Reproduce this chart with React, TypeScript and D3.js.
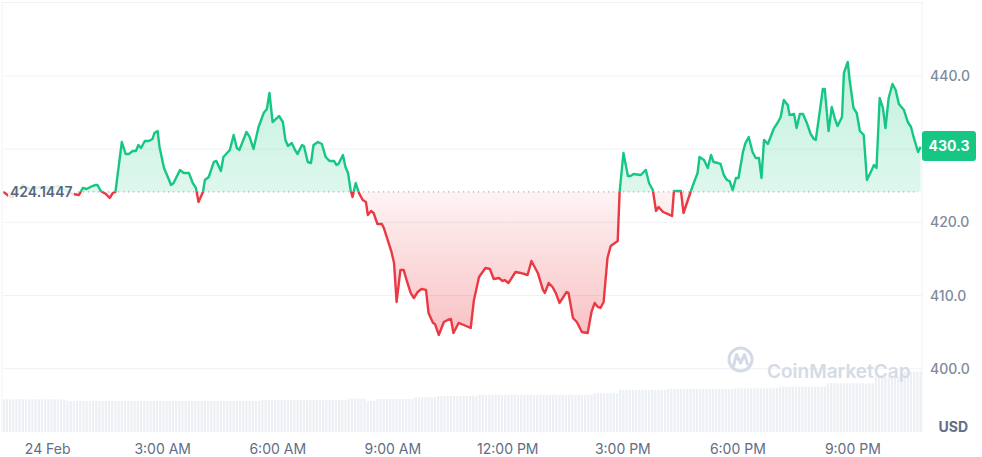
import React from "react";
import * as d3 from "d3";

// minutes after 00:00 on 24 Feb (negative = previous day)
const priceMinutes = [
  -69, -61, -55, -47, -39, -27, -11, 5, 17, 28,
  39, 49, 55, 61, 67, 75, 78, 83, 91, 97,
  102, 106, 116, 122, 127, 133, 138, 142, 146, 152,
  158, 164, 167, 172, 175, 182, 188, 193, 197, 207,
  213, 221, 227, 232, 236, 243, 246, 252, 260, 264,
  271, 275, 285, 291, 296, 300, 311, 316, 322, 330,
  338, 343, 347, 352, 362, 368, 372, 376, 382, 387,
  391, 398, 401, 407, 412, 416, 423, 429, 435, 441,
  448, 452, 455, 462, 466, 470, 474, 477, 482, 487,
  493, 498, 501, 506, 510, 516, 523, 526, 532, 538,
  542, 546, 552, 557, 563, 568, 573, 579, 585, 592,
  596, 603, 606, 612, 620, 626, 631, 635, 643, 651,
  662, 667, 675, 685, 692, 698, 706, 712, 715, 721,
  732, 740, 751, 757, 767, 775, 778, 784, 790, 795,
  801, 812, 815, 822, 828, 836, 845, 851, 856, 861,
  865, 870, 876, 881, 892, 895, 901, 908, 912, 917,
  928, 936, 941, 947, 952, 956, 963, 970, 977, 980,
  991, 995, 1006, 1011, 1017, 1020, 1027, 1033, 1038, 1042,
  1049, 1053, 1058, 1063, 1067, 1072, 1077, 1081, 1088, 1092,
  1097, 1103, 1108, 1113, 1117, 1121, 1127, 1136, 1143, 1147,
  1152, 1158, 1161, 1168, 1172, 1177, 1182, 1188, 1194, 1199,
  1202, 1207, 1213, 1216, 1222, 1227, 1232, 1236, 1243, 1246,
  1252, 1255, 1261, 1266, 1271, 1277, 1282, 1288, 1293, 1297,
  1302, 1307, 1311, 1316, 1322, 1327, 1332, 1340, 1346, 1351,
  1355, 1362, 1366,
];

const priceValues = [
  424.14, 423.6, 423.46, 424.41, 425.1, 424.55, 424.83, 424.69, 424.96, 424.41,
  423.87, 423.73, 424.69, 424.55, 424.83, 425.1, 425.1, 424.28, 423.87, 423.32,
  424.01, 424.14, 430.97, 429.33, 429.33, 429.74, 429.74, 430.56, 430.15, 431.11,
  431.11, 431.38, 432.2, 432.47, 430.29, 427.42, 426.19, 425.1, 425.37, 427.15,
  426.74, 426.74, 425.37, 424.69, 422.78, 424.14, 425.78, 426.19, 428.24, 428.38,
  427.01, 428.92, 429.88, 431.93, 430.15, 429.88, 432.34, 431.66, 430.02, 433.02,
  434.93, 435.48, 437.67, 433.7, 434.52, 433.7, 431.25, 430.43, 430.84, 429.88,
  429.33, 430.56, 430.43, 428.24, 428.1, 430.56, 430.97, 430.7, 428.92, 428.38,
  428.38, 427.83, 427.97, 429.2, 427.56, 426.74, 424.41, 423.46, 425.37, 424.01,
  423.05, 422.78, 421.0, 421.55, 421.27, 419.77, 419.77, 419.23, 417.59, 415.95,
  414.44, 409.12, 413.49, 413.49, 411.71, 410.35, 409.66, 410.48, 410.89, 410.76,
  407.61, 406.25, 406.11, 404.61, 406.38, 406.66, 406.79, 404.88, 406.25, 405.97,
  405.56, 409.39, 412.53, 413.76, 413.62, 412.26, 412.39, 411.98, 412.12, 411.71,
  413.21, 413.08, 412.8, 414.72, 413.08, 410.76, 410.35, 411.71, 411.16, 410.35,
  408.98, 410.48, 410.35, 406.93, 406.38, 405.02, 404.88, 407.75, 408.98, 408.43,
  408.3, 409.12, 415.13, 416.77, 417.45, 424.14, 429.47, 426.33, 426.33, 426.6,
  426.46, 427.15, 425.37, 424.41, 421.55, 422.09, 421.41, 421.14, 420.86, 424.28,
  424.28, 421.27, 424.14, 425.37, 426.74, 428.92, 428.51, 427.42, 429.2, 428.24,
  428.1, 427.97, 426.46, 425.78, 425.64, 424.41, 426.06, 426.06, 429.61, 430.84,
  431.66, 429.61, 428.79, 428.79, 426.06, 431.25, 430.7, 432.75, 433.7, 434.39,
  436.71, 436.03, 434.66, 434.8, 432.88, 434.8, 434.8, 433.57, 432.06, 431.38,
  431.25, 434.39, 438.21, 438.21, 432.47, 435.75, 434.11, 433.16, 434.39, 440.4,
  441.9, 439.44, 435.62, 434.93, 432.47, 431.93, 425.78, 426.88, 427.83, 427.42,
  436.98, 435.62, 432.88, 436.98, 438.9, 438.08, 436.16, 435.34, 433.7, 433.02,
  431.66, 429.61, 430.3,
];

// 24h volume (arbitrary units, millions), one value every 5 minutes
const volumeStartMinute = -69;
const volumeStepMinutes = 5;
const volumeValues = [
  32.9, 32.7, 32.8, 32.6, 32.7, 32.9, 32.8, 32.7, 32.6, 32.8, 32.7, 32.7,
  32.8, 32.7, 32.6, 32.7, 32.8, 32.7, 32.6, 32.5, 31.2, 31.0, 31.1, 31.0,
  31.1, 31.0, 30.9, 31.0, 31.1, 31.0, 31.0, 30.9, 31.0, 31.1, 31.0, 31.0,
  31.0, 31.1, 31.0, 30.9, 31.0, 31.0, 31.1, 31.0, 31.0, 30.9, 31.0, 31.1,
  31.0, 31.0, 31.1, 31.0, 30.9, 31.0, 31.0, 31.1, 31.0, 31.0, 30.9, 31.0,
  31.1, 31.0, 31.0, 30.9, 31.0, 31.1, 31.0, 31.0, 31.1, 31.0, 30.9, 31.0,
  31.0, 31.1, 31.0, 31.0, 30.9, 31.0, 31.0, 31.1, 31.0, 32.0, 32.1, 32.0,
  32.0, 31.9, 32.0, 32.1, 32.0, 32.0, 31.9, 32.0, 32.1, 32.0, 32.0, 31.9,
  32.0, 32.1, 32.0, 32.0, 31.9, 32.0, 32.1, 32.0, 32.0, 32.0, 31.9, 32.0,
  33.3, 33.4, 33.3, 33.2, 33.3, 33.3, 31.0, 31.1, 31.0, 33.0, 33.1, 33.0,
  33.0, 32.9, 33.0, 33.1, 33.0, 33.0, 32.9, 33.0, 33.1, 34.7, 34.8, 34.7,
  34.7, 34.6, 34.7, 34.8, 36.0, 36.1, 36.0, 35.9, 36.0, 36.0, 36.1, 36.0,
  36.0, 35.9, 36.0, 36.1, 36.0, 37.3, 37.4, 37.3, 37.2, 37.3, 37.3, 37.4,
  37.3, 37.3, 37.2, 37.3, 37.4, 37.3, 37.3, 37.2, 37.3, 37.3, 37.4, 37.3,
  37.3, 37.2, 37.3, 37.3, 37.4, 37.3, 37.3, 37.2, 37.3, 37.4, 37.3, 37.3,
  37.3, 37.2, 37.3, 37.4, 37.3, 38.7, 38.8, 38.7, 38.6, 38.7, 38.7, 38.8,
  38.7, 42.0, 42.1, 42.0, 41.9, 42.0, 42.0, 42.1, 42.0, 42.0, 41.9, 42.0,
  42.0, 42.1, 42.0, 42.0, 43.0, 43.1, 43.0, 42.9, 43.0, 43.0, 43.1, 43.0,
  43.0, 42.9, 43.0, 43.1, 43.0, 43.0, 42.9, 43.0, 43.1, 43.0, 43.0, 42.9,
  43.0, 43.7, 43.8, 43.7, 43.6, 43.7, 43.7, 43.8, 43.7, 43.7, 43.6, 43.7,
  43.7, 43.8, 43.7, 45.3, 45.4, 45.3, 45.2, 45.3, 45.3, 45.4, 45.3, 45.3,
  45.3, 45.2, 45.3, 45.4, 45.3, 45.3, 48.7, 48.8, 48.7, 48.6, 48.7, 48.7,
  48.8, 48.7, 48.7, 48.6, 48.7, 48.8, 48.7, 48.7, 48.6, 55.3, 55.4, 55.3,
  55.2, 55.3, 55.3, 55.4, 55.3, 60.3, 60.4, 60.3, 60.2, 60.3, 60.3, 60.4,
];

const xTickHours = [0, 3, 6, 9, 12, 15, 18, 21];
const xTickLabels = ["24 Feb", "3:00 AM", "6:00 AM", "9:00 AM", "12:00 PM", "3:00 PM", "6:00 PM", "9:00 PM"];
const yTicks = [400, 410, 420, 430, 440];
const yTickLabels = ["400.0", "410.0", "420.0", "430.0", "440.0"];
const openPrice = 424.1447;
const openLabel = "424.1447";
const lastLabel = "430.3";
const currencyLabel = "USD";
const watermark = "CoinMarketCap";

const GREEN = "#16c784";
const RED = "#ea3943";
const FONT = "Inter, 'Noto Sans', sans-serif";

export default function App() {
  const W = 982;
  const H = 457;
  const day0 = new Date(2025, 1, 24, 0, 0, 0).getTime();
  const t = (m: number) => new Date(day0 + m * 60000);

  const plotL = 3;
  const plotR = 922;
  const volBottom = 432;

  const x = d3
    .scaleTime()
    .domain([t(priceMinutes[0]), t(priceMinutes[priceMinutes.length - 1])])
    .range([3.6, 920.6]);
  const y = d3.scaleLinear().domain([400, 440]).range([368.7, 75.9]);
  const vy = d3.scaleLinear().domain([0, 61]).range([volBottom, 371]);

  const data = priceMinutes.map((m, i) => ({ d: t(m), p: priceValues[i] }));
  const by = y(openPrice);

  const line = d3
    .line<{ d: Date; p: number }>()
    .x((d) => x(d.d))
    .y((d) => y(d.p));
  const area = d3
    .area<{ d: Date; p: number }>()
    .x((d) => x(d.d))
    .y0(by)
    .y1((d) => y(d.p));

  const linePath = line(data) || "";
  const areaPath = area(data) || "";

  const last = data[data.length - 1];
  const lastY = y(last.p);
  const badgeTop = lastY - 16;
  const badgeH = 30;

  const bars = volumeValues.map((v, i) => ({
    d: t(volumeStartMinute + i * volumeStepMinutes),
    v,
  }));

  return (
    <svg
      width={W}
      height={H}
      viewBox={`0 0 ${W} ${H}`}
      style={{ position: "absolute", left: 0, top: 0, background: "#fff" }}
      fontFamily={FONT}
    >
      <defs>
        <clipPath id="plotClip">
          <rect x={plotL} y={0} width={plotR - plotL} height={volBottom} />
        </clipPath>
        <clipPath id="aboveClip">
          <rect x={plotL} y={0} width={plotR - plotL} height={by} />
        </clipPath>
        <clipPath id="belowClip">
          <rect x={plotL} y={by} width={plotR - plotL} height={H - by} />
        </clipPath>
        <linearGradient id="gGreen" gradientUnits="userSpaceOnUse" x1={0} y1={60} x2={0} y2={by}>
          <stop offset="0%" stopColor={GREEN} stopOpacity={0.26} />
          <stop offset="100%" stopColor={GREEN} stopOpacity={0.14} />
        </linearGradient>
        <linearGradient id="gRed" gradientUnits="userSpaceOnUse" x1={0} y1={by} x2={0} y2={340}>
          <stop offset="0%" stopColor={RED} stopOpacity={0.06} />
          <stop offset="100%" stopColor={RED} stopOpacity={0.32} />
        </linearGradient>
      </defs>

      {/* frame */}
      <line x1={plotL - 1} x2={plotL - 1} y1={2} y2={volBottom} stroke="#eff2f5" strokeWidth={1} />
      <line x1={plotL - 1} x2={plotR} y1={2.5} y2={2.5} stroke="#eff2f5" strokeWidth={1} />
      <line x1={plotR} x2={plotR} y1={2} y2={volBottom} stroke="#eff2f5" strokeWidth={1} />

      {/* grid */}
      {yTicks.map((v) => (
        <line key={v} x1={plotL} x2={plotR} y1={y(v)} y2={y(v)} stroke="#eff2f5" strokeWidth={1} />
      ))}

      {/* volume bars */}
      <g clipPath="url(#plotClip)">
        {bars.map((b, i) => (
          <rect
            key={i}
            x={x(b.d) - 1.1}
            y={vy(b.v)}
            width={2.2}
            height={volBottom - vy(b.v)}
            fill="#eceff3"
          />
        ))}
      </g>

      {/* watermark */}
      <g>
        <circle cx={740.5} cy={359.5} r={11.5} fill="none" stroke="#d5dbe6" strokeWidth={3} />
        <path
          d="M733.5,366 L736.5,354.5 L740.5,363 L744.5,354.5 L747.5,364"
          fill="none"
          stroke="#d5dbe6"
          strokeWidth={3}
          strokeLinejoin="round"
          strokeLinecap="round"
        />
        <text x={767} y={378} fontSize={19} fontWeight={600} fill="#d5dbe6">
          {watermark}
        </text>
      </g>

      {/* areas */}
      <g clipPath="url(#plotClip)">
        <path d={areaPath} fill="url(#gGreen)" clipPath="url(#aboveClip)" />
        <path d={areaPath} fill="url(#gRed)" clipPath="url(#belowClip)" />
      </g>

      {/* baseline dotted */}
      <line
        x1={plotL}
        x2={plotR - 4}
        y1={by}
        y2={by}
        stroke="#a6b0c3"
        strokeWidth={1.2}
        strokeDasharray="1.2 3.8"
      />

      {/* lines */}
      <g clipPath="url(#plotClip)">
        <path d={linePath} fill="none" stroke={GREEN} strokeWidth={2.4} strokeLinejoin="round" clipPath="url(#aboveClip)" />
        <path d={linePath} fill="none" stroke={RED} strokeWidth={2.4} strokeLinejoin="round" clipPath="url(#belowClip)" />
      </g>

      {/* open price label */}
      <rect x={8} y={182} width={66} height={20} fill="#ffffff" fillOpacity={0.82} />
      <text x={10} y={by} dy="0.36em" fontSize={14} fontWeight={600} fill="#58667e">
        {openLabel}
      </text>

      {/* y axis labels (the one hidden behind the last-price badge is not drawn) */}
      {yTicks.map((v, i) =>
        y(v) > badgeTop - 6 && y(v) < badgeTop + badgeH + 6 ? null : (
          <text key={v} x={930} y={y(v)} dy="0.36em" fontSize={14} fontWeight={500} fill="#808a9d">
            {yTickLabels[i]}
          </text>
        )
      )}

      {/* last price badge */}
      <rect x={922} y={badgeTop} width={54} height={badgeH} rx={3} fill={GREEN} />
      <text x={949} y={lastY - 1} dy="0.36em" textAnchor="middle" fontSize={14} fontWeight={700} fill="#fff">
        {lastLabel}
      </text>

      {/* currency */}
      <text x={968} y={432} textAnchor="end" fontSize={14} fontWeight={700} fill="#616e85">
        {currencyLabel}
      </text>

      {/* x axis labels */}
      {xTickHours.map((h, i) => (
        <text key={h} x={x(t(h * 60))} y={454} textAnchor="middle" fontSize={14} fill="#616e85">
          {xTickLabels[i]}
        </text>
      ))}
    </svg>
  );
}
